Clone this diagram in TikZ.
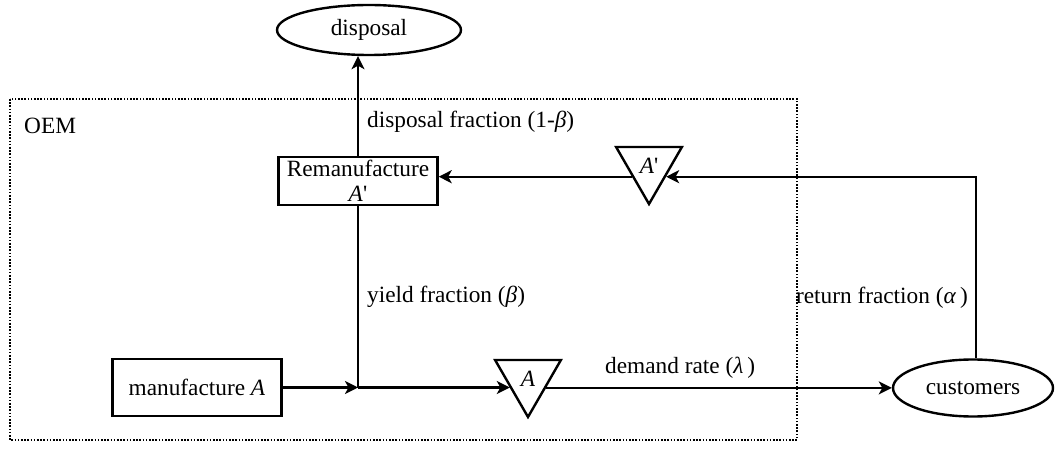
\documentclass[tikz,border=0pt]{standalone}
\usepackage{fontspec}
\setmainfont{Liberation Serif}
\usetikzlibrary{arrows.meta,shapes.geometric,calc}
\begin{document}
\begin{tikzpicture}[x=1pt,y=-1pt,
  every node/.style={font=\fontsize{23.3}{25}\selectfont},
  line/.style={line width=2.4pt},
  arr/.style={line, -{Stealth[length=13pt,width=13pt,inset=3.5pt]}},
  procbox/.style={draw, line width=2.4pt, inner sep=0pt, align=center},
  oval/.style={draw, ellipse, line width=2.4pt, inner sep=0pt},
  stock/.style={draw, regular polygon, regular polygon sides=3, shape border rotate=180, line width=2.4pt, minimum size=76pt, inner sep=0pt},
  lbl/.style={inner sep=0pt, anchor=west},
  oembox/.style={line width=1.6pt, dash pattern=on 1.6pt off 1.6pt}]
\useasboundingbox (0,0) rectangle (1055,470);
% OEM boundary
\draw[oembox] (10,99) rectangle (797,440);
\node[lbl] (oem) at (24,126) {OEM};
% nodes
\node[oval, minimum width=184pt, minimum height=50pt] (disp) at (369,30) {disposal};
\node[procbox, minimum width=159pt, minimum height=48pt] (rem) at (358,181) {Remanufacture\\\textit{A}\textquotesingle};
\node[procbox, minimum width=169pt, minimum height=57pt] (manu) at (197,387.5) {manufacture \textit{A}};
\node[stock] (tAp) at (649,166) {\textit{A}\textquotesingle};
\node[stock] (tA) at (528,379) {\textit{A}};
\node[oval, minimum width=160pt, minimum height=57pt] (cust) at (973,388) {customers};
\coordinate (j) at (358,387.5);
\coordinate (lA) at ($(tA.corner 3)!0.48!(tA.corner 1)$);
\coordinate (rA) at ($(tA.corner 2)!0.48!(tA.corner 1)$);
\coordinate (lAp) at ($(tAp.corner 3)!0.51!(tAp.corner 1)$);
\coordinate (rAp) at ($(tAp.corner 2)!0.51!(tAp.corner 1)$);
\coordinate (cr) at ($(cust.north)+(3,0)$);
% connectors
\draw[arr] (rem.north) -- (rem.north |- disp.south);
\draw[line] (rem.south) -- (j);
\draw[arr] (manu.east) -- (j);
\draw[arr] (j) -- (j -| lA);
\draw[arr] (rA) -- (rA -| cust.west);
\draw[arr] (cr) |- (rAp);
\draw[arr] (lAp) -- (lAp -| rem.east);
% labels
\node[lbl] (ldisp) at (367,122) {disposal fraction (1-\textit{β})};
\node[lbl] (lyield) at (367,297) {yield fraction (\textit{β})};
\node[inner sep=0pt, anchor=east] (lret) at (968,298) {return fraction (\textit{α}\,)};
\node[lbl] (ldem) at (605,368) {demand rate (\textit{λ}\,)};
\end{tikzpicture}
\end{document}
